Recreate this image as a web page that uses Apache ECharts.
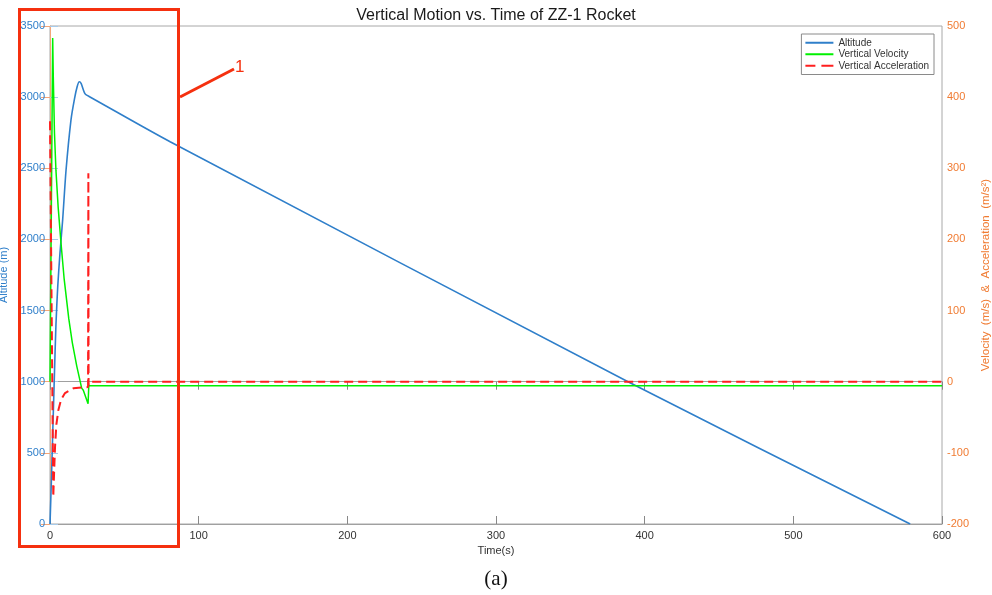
<!DOCTYPE html>
<html>
<head>
<meta charset="utf-8">
<script src="https://cdn.jsdelivr.net/npm/echarts@6/dist/echarts.min.js"></script>
<style>html,body{margin:0;padding:0;background:#fff;}#c{width:992px;height:595px;}</style>
</head>
<body>
<div id="c"></div>
<script>
// ---- data ----
var altTime = [0, 1, 2, 3, 4, 5.2, 6.7, 8.5, 10.8, 14.1, 16.5, 18.3, 19.7, 21, 22.3, 23.5, 25, 26.3, 80.8, 388.8, 578.6];
var altValue = [0, 330, 700, 1060, 1400, 1668, 1902, 2136, 2488, 2839, 2990, 3075, 3108, 3095, 3055, 3025, 3012, 3005, 2687, 1000, 0];

var velTime = [0, 0.6, 1.2, 1.8, 2.2, 3, 4, 5.5, 7.4, 9.5, 12.6, 15, 18, 21.3, 22.4, 25.6, 26.1, 600];
var velValue = [0, 160, 320, 483, 430, 350, 297, 245, 195, 145, 89, 55, 22, -9, -12, -31, -5.6, -5.6];

var accTime = [0, 0.3, 2.2, 2.8, 3.4, 4.3, 5.6, 7.5, 10.1, 15.7, 22.5, 25.6, 25.8, 25.95, 26.3, 600];
var accValue = [366, 366, -162, -125, -91, -60, -40, -25, -16, -9.3, -7.9, -7.5, 293, -5, 0, 0];

var timeTicks = [0, 100, 200, 300, 400, 500, 600];
var altTicks = [0, 500, 1000, 1500, 2000, 2500, 3000, 3500];
var rightTicks = [-200, -100, 0, 100, 200, 300, 400, 500];

var seriesNames = ['Altitude', 'Vertical Velocity', 'Vertical Acceleration'];

function pairs(t, v) { return t.map(function (x, i) { return [x, v[i]]; }); }
function plain(v) { return String(v); }

var FONT = 'Liberation Sans, Arial, Helvetica, sans-serif';
var BLUE = '#2f7fca';
var ORANGE = '#f07b32';
var GREEN = '#00f000';
var RED = '#ff1f1f';
var ANNOT = '#f5300f';
var SOLID_ICON = 'path://M0,0L28,0L28,2L0,2Z';
var DASH_ICON = 'path://M0,0L10,0L10,2L0,2ZM16,0L28,0L28,2L16,2Z';

var chart = echarts.init(document.getElementById('c'), null, {renderer: 'canvas'});
chart.setOption({
  animation: false,
  backgroundColor: '#ffffff',
  title: [{
    text: 'Vertical Motion vs. Time of ZZ-1 Rocket',
    left: 'center', top: 3,
    textStyle: {fontFamily: FONT, fontSize: 16, fontWeight: 'normal', color: '#1a1a1a'}
  }, {
    text: '(a)',
    left: 'center', top: 564,
    textStyle: {fontFamily: 'Liberation Serif, DejaVu Serif, serif', fontSize: 21, fontWeight: 'normal', color: '#111'}
  }],
  legend: {
    data: [
      {name: seriesNames[0], icon: SOLID_ICON},
      {name: seriesNames[1], icon: SOLID_ICON},
      {name: seriesNames[2], icon: DASH_ICON}
    ],
    orient: 'vertical',
    right: 58, top: 34,
    padding: [3, 5, 3, 4],
    itemWidth: 28, itemHeight: 2, itemGap: 0,
    borderColor: '#8a8a8a', borderWidth: 1, borderRadius: 0,
    backgroundColor: '#ffffff',
    textStyle: {fontFamily: FONT, fontSize: 10, color: '#333', lineHeight: 11.5}
  },
  grid: {left: 50, right: 50, top: 26, bottom: 71, containLabel: false, outerBoundsMode: 'none',
    show: true, borderColor: '#a8a8a8', borderWidth: 1, backgroundColor: 'transparent'},
  xAxis: [{
    type: 'value', min: timeTicks[0], max: timeTicks[timeTicks.length - 1], interval: 100,
    name: 'Time(s)', nameLocation: 'middle', nameGap: 21,
    nameTextStyle: {fontFamily: FONT, fontSize: 11, color: '#333'},
    axisLine: {show: true, lineStyle: {color: '#a0a0a0', width: 1}},
    axisTick: {show: true, inside: true, length: 8, lineStyle: {color: '#888'}},
    axisLabel: {fontFamily: FONT, fontSize: 11, color: '#333', margin: 6, formatter: plain},
    splitLine: {show: false}
  }, {
    type: 'value', position: 'top', min: timeTicks[0], max: timeTicks[timeTicks.length - 1], interval: 100,
    axisLine: {show: true, lineStyle: {color: '#a0a0a0', width: 1}},
    axisTick: {show: true, inside: true, length: 8, lineStyle: {color: '#888'}},
    axisLabel: {show: false},
    splitLine: {show: false}
  }],
  yAxis: [{
    type: 'value', min: altTicks[0], max: altTicks[altTicks.length - 1], interval: 500,
    name: 'Altitude (m)', nameLocation: 'middle', nameGap: 32,
    nameTextStyle: {fontFamily: FONT, fontSize: 11, color: BLUE},
    axisLine: {show: true, lineStyle: {color: '#a9cbe9', width: 1}},
    axisTick: {show: true, inside: true, length: 8, lineStyle: {color: '#a9cbe9'}},
    axisLabel: {fontFamily: FONT, fontSize: 11, color: BLUE, margin: 5, formatter: plain},
    splitLine: {show: false}
  }, {
    type: 'value', position: 'right', min: rightTicks[0], max: rightTicks[rightTicks.length - 1], interval: 100,
    name: 'Velocity  (m/s)  &  Acceleration  (m/s\u00b2)', nameLocation: 'middle', nameGap: 33,
    nameTextStyle: {fontFamily: FONT, fontSize: 11.5, color: ORANGE},
    axisLine: {show: true, lineStyle: {color: '#f4a577', width: 1}},
    axisTick: {show: true, inside: true, length: 9, lineStyle: {color: '#f4a577'}},
    axisLabel: {fontFamily: FONT, fontSize: 11, color: ORANGE, margin: 5, formatter: plain},
    splitLine: {show: false}
  }],
  series: [{
    name: seriesNames[0], type: 'line', xAxisIndex: 0, yAxisIndex: 0,
    data: pairs(altTime, altValue), symbol: 'none', smooth: 0.25,
    lineStyle: {color: BLUE, width: 1.6}, itemStyle: {color: BLUE}, z: 2
  }, {
    name: seriesNames[1], type: 'line', xAxisIndex: 0, yAxisIndex: 1,
    data: pairs(velTime, velValue), symbol: 'none', smooth: false,
    lineStyle: {color: GREEN, width: 1.5}, itemStyle: {color: GREEN}, z: 3
  }, {
    name: seriesNames[2], type: 'line', xAxisIndex: 0, yAxisIndex: 1,
    data: pairs(accTime, accValue), symbol: 'none', smooth: false,
    lineStyle: {color: RED, width: 2, type: [9, 5]}, itemStyle: {color: RED}, z: 4
  }],
  graphic: [{
    type: 'rect', shape: {x: 19.5, y: 9.5, width: 159, height: 537},
    style: {fill: 'none', stroke: ANNOT, lineWidth: 3}, z: 100
  }, {
    type: 'line', shape: {x1: 180, y1: 97, x2: 234, y2: 69},
    style: {stroke: ANNOT, lineWidth: 3}, z: 100
  }, {
    type: 'text', left: 235, top: 59,
    style: {text: '1', fill: ANNOT, font: '17px ' + FONT}, z: 100
  }]
});
</script>
</body>
</html>
